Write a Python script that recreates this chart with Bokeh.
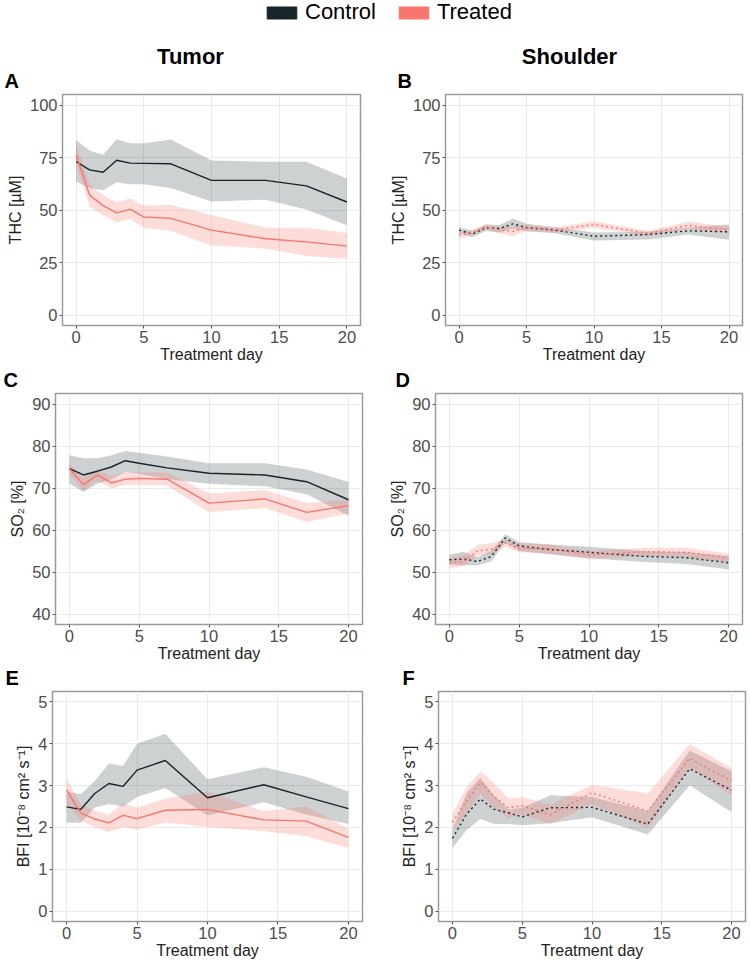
from bokeh.plotting import figure
from bokeh.layouts import column, row
from bokeh.models import Range1d, FixedTicker, Legend, LegendItem
from bokeh.embed import file_html
from bokeh.resources import INLINE
from bokeh.core.properties import value

# ---------------- data ----------------
days = [0, 1, 2, 3, 4, 5, 7, 10, 14, 17, 20]
series_names = ["Control", "Treated"]
column_titles = ["Tumor", "Shoulder"]
panel_letters = ["A", "B", "C", "D", "E", "F"]
x_ticks = [0, 5, 10, 15, 20]
thc_ticks = [0, 25, 50, 75, 100]
so2_ticks = [40, 50, 60, 70, 80, 90]
bfi_ticks = [0, 1, 2, 3, 4, 5]

tumor_thc_ctrl = [73.1, 69.1, 68.0, 73.7, 72.3, 72.2, 72.0, 64.1, 64.1, 61.5, 53.8]
tumor_thc_ctrl_hi = [83.3, 78.3, 76.3, 83.7, 81.8, 81.8, 83.6, 73.6, 73.0, 73.0, 65.0]
tumor_thc_ctrl_lo = [63.4, 60.5, 59.4, 63.2, 62.3, 62.3, 60.5, 54.1, 54.9, 50.2, 42.7]
tumor_thc_trt = [76.4, 57.1, 52.1, 48.6, 50.3, 46.7, 46.0, 40.4, 36.3, 34.8, 32.8]
tumor_thc_trt_hi = [81.8, 62.0, 57.0, 53.6, 55.5, 52.1, 52.4, 47.6, 41.5, 41.5, 39.2]
tumor_thc_trt_lo = [71.9, 51.4, 47.6, 44.1, 45.7, 41.5, 40.0, 33.1, 31.6, 28.1, 26.7]

shoulder_thc_ctrl = [40.4, 38.6, 41.6, 41.2, 43.4, 41.6, 40.5, 37.5, 38.3, 40.1, 39.6]
shoulder_thc_ctrl_hi = [41.9, 40.0, 43.1, 42.8, 45.9, 43.4, 41.9, 39.3, 39.6, 41.6, 43.1]
shoulder_thc_ctrl_lo = [38.9, 37.0, 40.0, 39.3, 41.3, 39.8, 39.0, 35.5, 36.0, 38.3, 35.8]
shoulder_thc_trt = [38.1, 39.3, 41.9, 40.4, 39.8, 41.6, 40.4, 43.1, 38.9, 42.7, 40.5]
shoulder_thc_trt_hi = [39.6, 40.5, 43.1, 41.9, 42.1, 42.8, 41.6, 44.7, 40.1, 44.4, 42.1]
shoulder_thc_trt_lo = [36.6, 38.1, 40.7, 38.9, 37.5, 40.4, 39.2, 41.5, 37.7, 41.0, 38.9]

tumor_so2_ctrl = [74.6, 73.1, 74.0, 75.0, 76.5, 75.9, 74.8, 73.5, 73.1, 71.5, 67.2]
tumor_so2_ctrl_hi = [77.8, 77.1, 77.1, 77.8, 78.8, 78.4, 77.5, 75.9, 75.9, 74.4, 71.4]
tumor_so2_ctrl_lo = [71.0, 69.1, 71.0, 72.1, 73.8, 73.4, 72.1, 71.0, 70.4, 68.5, 63.4]
tumor_so2_trt = [74.6, 70.8, 73.1, 71.2, 72.1, 72.3, 72.1, 66.4, 67.4, 64.2, 65.8]
tumor_so2_trt_hi = [75.9, 72.3, 74.4, 72.9, 73.7, 73.7, 73.7, 68.7, 69.5, 66.4, 67.2]
tumor_so2_trt_lo = [73.3, 69.3, 71.8, 69.9, 70.8, 70.8, 70.6, 64.2, 65.3, 61.9, 63.9]

shoulder_so2_ctrl = [52.9, 53.1, 52.5, 53.7, 58.1, 56.2, 55.4, 54.7, 53.7, 53.4, 52.2]
shoulder_so2_ctrl_hi = [54.1, 54.8, 53.5, 55.0, 59.0, 57.1, 56.6, 56.0, 55.0, 54.7, 53.8]
shoulder_so2_ctrl_lo = [51.8, 51.6, 51.6, 52.5, 57.1, 55.0, 54.3, 53.3, 52.4, 51.9, 50.6]
shoulder_so2_trt = [52.2, 52.5, 55.0, 55.4, 56.9, 55.6, 55.6, 54.1, 54.8, 54.7, 53.3]
shoulder_so2_trt_hi = [53.3, 53.9, 56.4, 56.9, 57.7, 56.8, 56.6, 55.0, 55.8, 55.8, 54.4]
shoulder_so2_trt_lo = [50.9, 51.4, 53.9, 54.3, 56.0, 54.7, 54.4, 53.1, 53.8, 53.5, 52.2]

tumor_bfi_ctrl = [2.49, 2.43, 2.81, 3.05, 2.98, 3.37, 3.60, 2.71, 3.02, 2.73, 2.45]
tumor_bfi_ctrl_hi = [2.85, 2.79, 3.11, 3.53, 3.47, 4.00, 4.24, 3.15, 3.44, 3.21, 2.86]
tumor_bfi_ctrl_lo = [2.11, 2.11, 2.47, 2.56, 2.50, 2.73, 2.94, 2.29, 2.60, 2.31, 2.08]
tumor_bfi_trt = [2.90, 2.35, 2.20, 2.11, 2.29, 2.21, 2.41, 2.43, 2.18, 2.15, 1.76]
tumor_bfi_trt_hi = [3.18, 2.54, 2.40, 2.31, 2.58, 2.47, 2.69, 2.85, 2.39, 2.50, 1.97]
tumor_bfi_trt_lo = [2.58, 2.16, 2.01, 1.89, 2.01, 1.95, 2.12, 2.01, 1.91, 1.79, 1.51]

shoulder_bfi_ctrl = [1.74, 2.31, 2.68, 2.43, 2.35, 2.25, 2.47, 2.48, 2.08, 3.40, 2.89]
shoulder_bfi_ctrl_hi = [1.93, 2.81, 3.19, 2.75, 2.43, 2.47, 2.77, 2.73, 2.39, 3.84, 3.34]
shoulder_bfi_ctrl_lo = [1.51, 1.93, 2.20, 2.08, 2.08, 2.05, 2.10, 2.24, 1.83, 3.00, 2.37]
shoulder_bfi_trt = [2.12, 2.62, 3.08, 2.73, 2.47, 2.52, 2.30, 2.83, 2.39, 3.65, 3.11]
shoulder_bfi_trt_hi = [2.33, 2.95, 3.34, 3.05, 2.69, 2.73, 2.54, 3.02, 2.81, 3.99, 3.42]
shoulder_bfi_trt_lo = [1.93, 2.30, 2.81, 2.45, 2.22, 2.31, 2.08, 2.56, 1.98, 3.42, 2.76]

# ---------------- style ----------------
FONT = "Liberation Sans"
CTRL = "#17242a"
TRT = "#f8766d"
W = 375
TOTAL_W = 2 * W


def panel(height, bl, br, bt, bb, yr, yticks, ylabel, ctrl, trt, dotted):
    p = figure(width=W, height=height, min_border_left=bl, min_border_right=br,
               min_border_top=bt, min_border_bottom=bb,
               x_range=Range1d(-1, 21), y_range=Range1d(*yr),
               output_backend="svg", toolbar_location=None)
    p.background_fill_color = "white"
    p.border_fill_color = "white"
    p.outline_line_color = "#9a9a9a"
    p.outline_line_width = 1.5
    p.grid.grid_line_color = "#ebebeb"
    p.grid.grid_line_width = 1
    p.xaxis.ticker = FixedTicker(ticks=x_ticks)
    p.yaxis.ticker = FixedTicker(ticks=yticks)
    for ax in (p.xaxis[0], p.yaxis[0]):
        ax.axis_line_color = None
        ax.major_tick_line_color = "#555555"
        ax.major_tick_in = 0
        ax.major_tick_out = 3
        ax.minor_tick_line_color = None
        ax.major_label_text_font = FONT
        ax.major_label_text_font_size = "16.5px"
        ax.major_label_text_color = "#4d4d4d"
        ax.major_label_standoff = 2
        ax.axis_label_text_font = FONT
        ax.axis_label_text_font_size = "16px"
        ax.axis_label_text_font_style = "normal"
        ax.axis_label_text_color = "#222222"
    p.xaxis.axis_label = "Treatment day"
    p.xaxis.axis_label_standoff = 0
    p.yaxis.axis_label = ylabel
    p.yaxis.axis_label_standoff = 3
    dash = "2 3" if dotted else "solid"
    for (mid, hi, lo), col, a in ((ctrl, CTRL, 0.21), (trt, TRT, 0.25)):
        p.varea(x=days, y1=lo, y2=hi, fill_color=col, fill_alpha=a)
    for (mid, hi, lo), col in ((ctrl, CTRL), (trt, TRT)):
        p.line(x=days, y=mid, line_color=col, line_width=1.4, line_dash=dash)
    return p


def strip(height):
    s = figure(width=TOTAL_W, height=height, min_border=0, x_range=Range1d(0, TOTAL_W),
               y_range=Range1d(0, height), output_backend="svg", toolbar_location=None,
               x_axis_location=None, y_axis_location=None)
    s.grid.visible = False
    s.outline_line_color = None
    s.background_fill_color = "white"
    s.border_fill_color = "white"
    return s


def letters(s, xs, texts):
    s.text(x=xs, y=[12, 12], text=texts, text_font=value(FONT), text_font_size="20px",
           text_font_style="bold", text_align="left", text_baseline="alphabetic",
           text_color="black")


# header with legend, column titles and letters A/B
HDR_H = 92
hdr = strip(HDR_H)
r_c = hdr.quad(left=[-30], right=[-20], top=[-20], bottom=[-30], fill_color=CTRL, line_color=CTRL)
r_t = hdr.quad(left=[-30], right=[-20], top=[-20], bottom=[-30], fill_color=TRT, line_color=TRT)
leg = Legend(items=[LegendItem(label=series_names[0], renderers=[r_c]),
                    LegendItem(label=series_names[1], renderers=[r_t])],
             orientation="horizontal", location=(263, 67), glyph_width=37, glyph_height=15,
             label_text_font=FONT, label_text_font_size="22px", label_text_color="black",
             label_standoff=5, spacing=19, padding=0, margin=0, label_height=15,
             border_line_color=None, background_fill_alpha=0)
hdr.add_layout(leg, "center")
hdr.text(x=[190, 569], y=[HDR_H - 56, HDR_H - 56], text=column_titles, text_font=value(FONT),
         text_font_size="22px", text_font_style="bold", text_align="center",
         text_baseline="alphabetic", text_color="black")
letters(hdr, [4, 397], panel_letters[0:2])

thc_label = "THC [\u00b5M]"
so2_label = "SO\u2082 [%]"
bfi_label = "BFI [10\u207b\u2078 cm\u00b2 s\u207b\u00b9]"

ROW_H = 275
pA = panel(ROW_H, 62, 15, 2, 42, (-5, 105), thc_ticks, thc_label,
           (tumor_thc_ctrl, tumor_thc_ctrl_hi, tumor_thc_ctrl_lo),
           (tumor_thc_trt, tumor_thc_trt_hi, tumor_thc_trt_lo), False)
pB = panel(ROW_H, 70, 8, 2, 42, (-5, 105), thc_ticks, thc_label,
           (shoulder_thc_ctrl, shoulder_thc_ctrl_hi, shoulder_thc_ctrl_lo),
           (shoulder_thc_trt, shoulder_thc_trt_hi, shoulder_thc_trt_lo), True)

s2 = strip(24)
letters(s2, [3, 395], panel_letters[2:4])

pC = panel(ROW_H, 55, 13, 2, 42, (37.5, 92.5), so2_ticks, so2_label,
           (tumor_so2_ctrl, tumor_so2_ctrl_hi, tumor_so2_ctrl_lo),
           (tumor_so2_trt, tumor_so2_trt_hi, tumor_so2_trt_lo), False)
pD = panel(ROW_H, 60, 8, 2, 42, (37.5, 92.5), so2_ticks, so2_label,
           (shoulder_so2_ctrl, shoulder_so2_ctrl_hi, shoulder_so2_ctrl_lo),
           (shoulder_so2_trt, shoulder_so2_trt_hi, shoulder_so2_trt_lo), True)

s3 = strip(23)
letters(s3, [5, 402], panel_letters[4:6])

pE = panel(ROW_H - 1, 52, 13, 2, 42, (-0.25, 5.25), bfi_ticks, bfi_label,
           (tumor_bfi_ctrl, tumor_bfi_ctrl_hi, tumor_bfi_ctrl_lo),
           (tumor_bfi_trt, tumor_bfi_trt_hi, tumor_bfi_trt_lo), False)
pF = panel(ROW_H - 1, 63, 5, 2, 42, (-0.25, 5.25), bfi_ticks, bfi_label,
           (shoulder_bfi_ctrl, shoulder_bfi_ctrl_hi, shoulder_bfi_ctrl_lo),
           (shoulder_bfi_trt, shoulder_bfi_trt_hi, shoulder_bfi_trt_lo), True)

layout = column(hdr, row(pA, pB, spacing=0), s2, row(pC, pD, spacing=0), s3,
                row(pE, pF, spacing=0), spacing=0)

open("out.html", "w").write(file_html(layout, INLINE))
